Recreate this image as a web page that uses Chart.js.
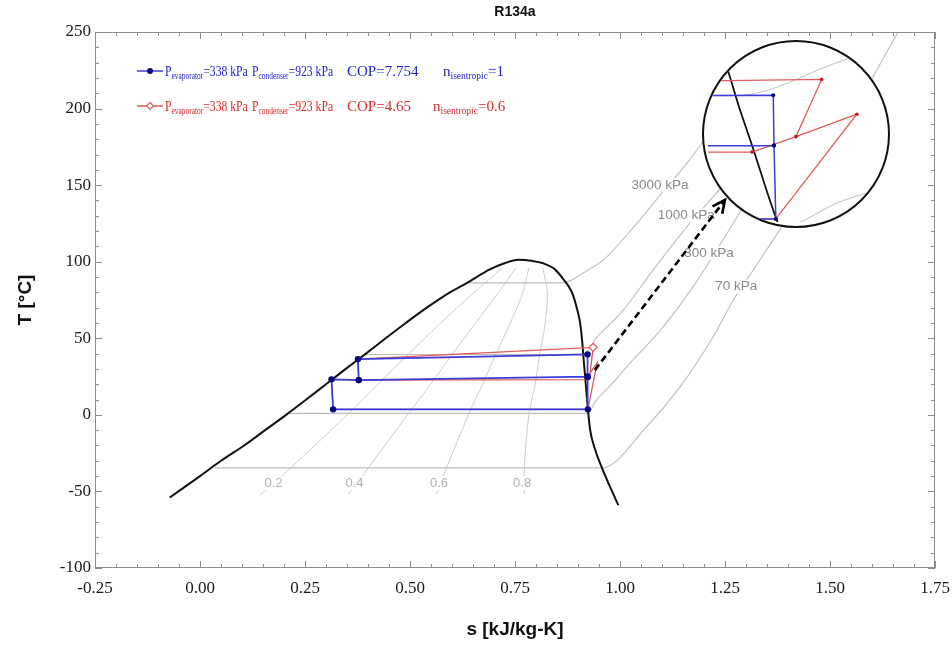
<!DOCTYPE html>
<html>
<head>
<meta charset="utf-8">
<script src="https://cdn.jsdelivr.net/npm/chart.js@4.4.1/dist/chart.umd.min.js"></script>
<style>
  body { margin: 0; background: #fff; }
  #wrap { position: relative; width: 952px; height: 648px; }
  #lupa { position: absolute; border: 2px solid #111; border-radius: 50%; overflow: hidden; background: #fff; }
  #lupa canvas { display: block; }
</style>
</head>
<body>
<div id="wrap">
  <canvas id="ts" width="952" height="648"></canvas>
  <div id="lupa"><canvas id="zoomTs"></canvas></div>
</div>
<script>
// saturation dome of R134a, s [kJ/kg-K] vs T [C]
const domeS = [-0.072, 0.0, 0.05, 0.105, 0.155, 0.205, 0.253, 0.30, 0.347, 0.395, 0.442, 0.49, 0.54, 0.595, 0.636, 0.69, 0.725, 0.757,
               0.79, 0.817, 0.845, 0.864, 0.885, 0.897, 0.905, 0.910, 0.9135, 0.917, 0.9235, 0.929, 0.94, 0.957, 0.978, 0.996];
const domeT = [-54, -40, -30, -20, -10, 0, 10, 20, 30, 40, 50, 60, 70, 80, 86.2, 95, 99, 101.3,
               100.6, 99, 95, 89, 80.4, 70, 60, 48, 36, 25, 4, -10, -22, -34.6, -48, -59];

// isobars
const iso3000S = [0.636, 0.864, 0.92, 0.96, 1.04, 1.10, 1.159, 1.206, 1.299, 1.33];
const iso3000T = [86.2, 86.2, 94, 101, 125, 145, 164.2, 181.6, 220, 235];
const iso1000S = [0.392, 0.9125, 0.943, 1.008, 1.08, 1.159, 1.254, 1.363, 1.44];
const iso1000T = [39.4, 39.4, 50, 68.4, 95, 122.8, 153.3, 200, 235];
const iso300S = [0.214, 0.924, 0.942, 0.98, 1.016, 1.103, 1.174, 1.294, 1.371, 1.457, 1.508];
const iso300T = [1.0, 1.0, 9, 20, 31.4, 57.5, 83.7, 135.9, 170, 210, 235];
const iso70S = [0.035, 0.957, 1.063, 1.143, 1.222, 1.27, 1.317, 1.414, 1.494, 1.58, 1.662];
const iso70T = [-34.6, -34.6, -7.8, 18.3, 51, 75, 94.5, 135, 170, 210, 250];

// constant quality lines
const qualT = [-52, -34.6, 0, 20, 40, 60, 80, 96];
const q02S = [0.144, 0.216, 0.350, 0.424, 0.498, 0.573, 0.653, 0.721];
const q04S = [0.353, 0.401, 0.494, 0.549, 0.602, 0.656, 0.711, 0.752];
const q06S = [0.563, 0.587, 0.639, 0.673, 0.705, 0.739, 0.769, 0.783];
const q08S = [0.772, 0.772, 0.783, 0.798, 0.809, 0.822, 0.827, 0.816];

// cycles (path order)
const blueS = [0.378, 0.923, 0.9228, 0.376, 0.378, 0.313, 0.317, 0.9235, 0.923];
const blueT = [22.7, 24.9, 39.5, 36.4, 22.7, 23.2, 3.6, 3.6, 24.9];
const redS = [0.929, 0.936, 0.376, 0.378, 0.917, 0.929, 0.9456, 0.9235, 0.317, 0.313, 0.378];
const redT = [27.5, 44.1, 36.4, 22.7, 23.0, 27.5, 34.0, 3.6, 3.6, 23.2, 22.7];

// labels
const isoLabels = ['3000 kPa', '1000 kPa', '300 kPa', '70 kPa'];
const isoLabelS = [1.095, 1.158, 1.212, 1.277];
const isoLabelT = [150.1, 130.1, 105.6, 83.8];
const qualLabels = ['0.2', '0.4', '0.6', '0.8'];
const qualLabelS = [0.175, 0.368, 0.569, 0.767];
const qualLabelT = -44.6;

const pEvap = 338, pCond = 923;
const cop = [7.754, 4.65];
const nIsen = [1, 0.6];

// dashed arrow to the magnifier, and the magnifier itself
const arrowS = [0.94, 1.25];
const arrowT = [29.2, 140.3];
const lupaCenter = [1.42, 183.4];
const lupaRad = 0.219;
const lupaS = [0.905, 0.953];
const lupaT = [2.7, 53.8];

const BLUE = '#3c3cd6', RED = '#e05a5a', NAVY = '#08087e';
const pts = (s, T) => s.map((v, i) => ({x: v, y: T[i]}));
const line = (s, T, color, width, order, extra) => Object.assign({
  data: pts(s, T), showLine: true, borderColor: color, backgroundColor: color,
  borderWidth: width, pointRadius: 0, order: order
}, extra || {});

const isMajor = (v, step) => Math.abs(v / step - Math.round(v / step)) < 1e-6;

function drawLabels(chart) {
  const {ctx, scales: {x, y}} = chart;
  ctx.save();
  ctx.textAlign = 'center';
  ctx.textBaseline = 'middle';
  const put = (txt, px, py, font, color) => {
    ctx.font = font;
    const w = ctx.measureText(txt).width;
    ctx.fillStyle = '#fff';
    ctx.fillRect(px - w / 2 - 1, py - 7, w + 2, 14);
    ctx.fillStyle = color;
    ctx.fillText(txt, px, py);
  };
  isoLabels.forEach((t, i) => put(t, x.getPixelForValue(isoLabelS[i]), y.getPixelForValue(isoLabelT[i]),
    '13.5px "Liberation Sans"', '#8a8a8a'));
  qualLabels.forEach((t, i) => put(t, x.getPixelForValue(qualLabelS[i]), y.getPixelForValue(qualLabelT),
    '13px "Liberation Sans"', '#b0b0b0'));
  ctx.restore();
}

function drawFrame(chart) {
  const {ctx, chartArea: a, scales: {x, y}} = chart;
  ctx.save();
  ctx.strokeStyle = '#8c8c8c';
  ctx.lineWidth = 1;
  ctx.strokeRect(a.left + 0.5, a.top + 0.5, a.right - a.left - 1, a.bottom - a.top - 1);
  ctx.beginPath();
  x.ticks.forEach(t => {
    const px = Math.round(x.getPixelForValue(t.value)) + 0.5;
    const len = isMajor(t.value, 0.25) ? 7 : 4;
    ctx.moveTo(px, a.bottom); ctx.lineTo(px, a.bottom - len);
    ctx.moveTo(px, a.top); ctx.lineTo(px, a.top + len);
  });
  y.ticks.forEach(t => {
    const py = Math.round(y.getPixelForValue(t.value)) + 0.5;
    const len = isMajor(t.value, 50) ? 7 : 4;
    ctx.moveTo(a.left, py); ctx.lineTo(a.left + len, py);
    ctx.moveTo(a.right, py); ctx.lineTo(a.right - len, py);
  });
  ctx.stroke();
  ctx.restore();
}

function drawArrowHead(chart) {
  const {ctx, scales: {x, y}} = chart;
  const x0 = x.getPixelForValue(arrowS[0]), y0 = y.getPixelForValue(arrowT[0]);
  const x1 = x.getPixelForValue(arrowS[1]), y1 = y.getPixelForValue(arrowT[1]);
  const ang = Math.atan2(y1 - y0, x1 - x0);
  ctx.save();
  ctx.strokeStyle = '#000';
  ctx.lineWidth = 2.6;
  ctx.beginPath();
  ctx.moveTo(x1 - 14 * Math.cos(ang - 0.45), y1 - 14 * Math.sin(ang - 0.45));
  ctx.lineTo(x1, y1);
  ctx.lineTo(x1 - 14 * Math.cos(ang + 0.45), y1 - 14 * Math.sin(ang + 0.45));
  ctx.stroke();
  ctx.restore();
}

function drawLegend(chart) {
  const ctx = chart.ctx;
  const rows = [
    {color: '#2323c8', line: BLUE, cy: 71, i: 0, at: [165, 252, 347, 443]},
    {color: '#d42a2a', line: RED, cy: 106, i: 1, at: [165, 252, 347, 433]}
  ];
  const squeeze = [0.78, 0.78, 1, 1];
  const fontOf = sub => sub ? '9.5px "Liberation Serif"' : '15px "Liberation Serif"';
  ctx.save();
  rows.forEach(r => {
    ctx.strokeStyle = r.line;
    ctx.lineWidth = 1.5;
    ctx.beginPath();
    ctx.moveTo(137, r.cy); ctx.lineTo(163, r.cy);
    ctx.stroke();
    ctx.beginPath();
    if (r.i === 0) {
      ctx.fillStyle = NAVY;
      ctx.arc(150, r.cy, 3, 0, Math.PI * 2);
      ctx.fill();
    } else {
      ctx.fillStyle = '#fff';
      ctx.lineWidth = 1.2;
      ctx.moveTo(150, r.cy - 3.5); ctx.lineTo(153.5, r.cy); ctx.lineTo(150, r.cy + 3.5); ctx.lineTo(146.5, r.cy);
      ctx.closePath();
      ctx.fill(); ctx.stroke();
    }
    const segs = [
      [['P', 0], ['evaporator', 1], ['=' + pEvap + ' kPa', 0]],
      [['P', 0], ['condenser', 1], ['=' + pCond + ' kPa', 0]],
      [['COP=' + cop[r.i], 0]],
      [['n', 0], ['isentropic', 1], ['=' + nIsen[r.i], 0]]
    ];
    const base = r.cy + 5;
    ctx.fillStyle = r.color;
    ctx.textAlign = 'left';
    ctx.textBaseline = 'alphabetic';
    segs.forEach((parts, k) => {
      ctx.save();
      ctx.translate(r.at[k], base);
      ctx.scale(squeeze[k], 1);
      let px = 0;
      parts.forEach(([t, sub]) => {
        ctx.font = fontOf(sub);
        ctx.fillText(t, px, sub ? 3 : 0);
        px += ctx.measureText(t).width;
      });
      ctx.restore();
    });
  });
  const a = chart.chartArea;
  ctx.fillStyle = '#111';
  ctx.font = 'bold 14px "Liberation Sans"';
  ctx.textAlign = 'center';
  ctx.textBaseline = 'middle';
  ctx.fillText('R134a', (a.left + a.right) / 2, 12);
  ctx.restore();
}

const decor = {
  id: 'decor',
  beforeDatasetDraw(chart, args) { if (args.index === 0) drawLabels(chart); },
  afterDatasetsDraw(chart) { drawArrowHead(chart); drawFrame(chart); },
  afterDraw(chart) { drawLegend(chart); }
};

const gray = '#bdbdbd', qgray = '#cdcdcd';
const mono = {cubicInterpolationMode: 'monotone'};

const main = new Chart(document.getElementById('ts'), {
  type: 'scatter',
  data: {
    datasets: [
      line(arrowS, arrowT, '#000', 2.6, 0, {borderDash: [7, 4]}),
      line(blueS, blueT, BLUE, 1.7, 1, {pointRadius: 3.2, pointBackgroundColor: NAVY, pointBorderColor: NAVY, pointBorderWidth: 0}),
      line(redS, redT, RED, 1.3, 2, {pointRadius: c => c.dataIndex === 1 ? 4 : 0, pointStyle: 'rectRot',
        pointBackgroundColor: '#fff', pointBorderColor: RED, pointBorderWidth: 1.2}),
      line(domeS, domeT, '#111', 2, 3, mono),
      line(iso3000S, iso3000T, gray, 1.1, 4, mono),
      line(iso1000S, iso1000T, gray, 1.1, 4, mono),
      line(iso300S, iso300T, gray, 1.1, 4, mono),
      line(iso70S, iso70T, gray, 1.1, 4, mono),
      line(q02S, qualT, qgray, 1, 5, {tension: 0.3}),
      line(q04S, qualT, qgray, 1, 5, {tension: 0.3}),
      line(q06S, qualT, qgray, 1, 5, {tension: 0.3}),
      line(q08S, qualT, qgray, 1, 5, {tension: 0.3})
    ]
  },
  options: {
    responsive: false,
    animation: false,
    events: [],
    layout: {padding: {top: 32, right: 17, left: 0, bottom: 0}},
    plugins: {legend: {display: false}, tooltip: {enabled: false}, title: {display: false}},
    scales: {
      x: {
        type: 'linear', min: -0.25, max: 1.75,
        grid: {display: false, drawTicks: false}, border: {display: false},
        ticks: {stepSize: 0.05, maxTicksLimit: 100, autoSkip: false, maxRotation: 0, minRotation: 0, padding: 10,
          color: '#1a1a1a', font: {family: '"Liberation Serif"', size: 17},
          callback: v => isMajor(v, 0.25) ? v.toFixed(2) : ''},
        title: {display: true, text: 's [kJ/kg-K]', color: '#111', padding: {top: 0, bottom: 7},
          font: {family: '"Liberation Sans"', size: 19, weight: 'bold'}},
        afterFit: s => { s.height = 80; s.paddingLeft = 0; s.paddingRight = 0; }
      },
      y: {
        type: 'linear', min: -100, max: 250,
        grid: {display: false, drawTicks: false}, border: {display: false},
        ticks: {stepSize: 10, maxTicksLimit: 100, autoSkip: false, padding: 4,
          color: '#1a1a1a', font: {family: '"Liberation Serif"', size: 17},
          callback: v => isMajor(v, 50) ? String(v) : ''},
        title: {display: true, text: 'T [°C]', color: '#111', padding: {top: 14, bottom: 0},
          font: {family: '"Liberation Sans"', size: 19, weight: 'bold'}},
        afterFit: s => { s.width = 95; }
      }
    }
  },
  plugins: [decor]
});

// magnifier circle: a second chart with its own scales over the same data
const xs = main.scales.x, ys = main.scales.y;
const cx = xs.getPixelForValue(lupaCenter[0]);
const cy = ys.getPixelForValue(lupaCenter[1]);
const rad = Math.round(xs.getPixelForValue(lupaCenter[0] + lupaRad) - cx);
const lupa = document.getElementById('lupa');
lupa.style.left = (cx - rad - 2) + 'px';
lupa.style.top = (cy - rad - 2) + 'px';
lupa.style.width = (2 * rad) + 'px';
lupa.style.height = (2 * rad) + 'px';
const zc = document.getElementById('zoomTs');
zc.width = 2 * rad;
zc.height = 2 * rad;

new Chart(zc, {
  type: 'scatter',
  data: {
    datasets: [
      line(blueS, blueT, BLUE, 1.5, 1, {pointRadius: 2, pointBackgroundColor: NAVY, pointBorderWidth: 0}),
      line(redS, redT, RED, 1.3, 2, {pointRadius: 1.8, pointBackgroundColor: '#c81e1e', pointBorderWidth: 0}),
      line(domeS, domeT, '#111', 1.8, 3, mono),
      line(iso1000S, iso1000T, gray, 1, 4, mono),
      line(iso300S, iso300T, gray, 1, 4, mono)
    ]
  },
  options: {
    responsive: false,
    animation: false,
    events: [],
    layout: {padding: 0},
    plugins: {legend: {display: false}, tooltip: {enabled: false}},
    scales: {
      x: {type: 'linear', min: lupaS[0], max: lupaS[1], display: false},
      y: {type: 'linear', min: lupaT[0], max: lupaT[1], display: false}
    }
  }
});
</script>
</body>
</html>
